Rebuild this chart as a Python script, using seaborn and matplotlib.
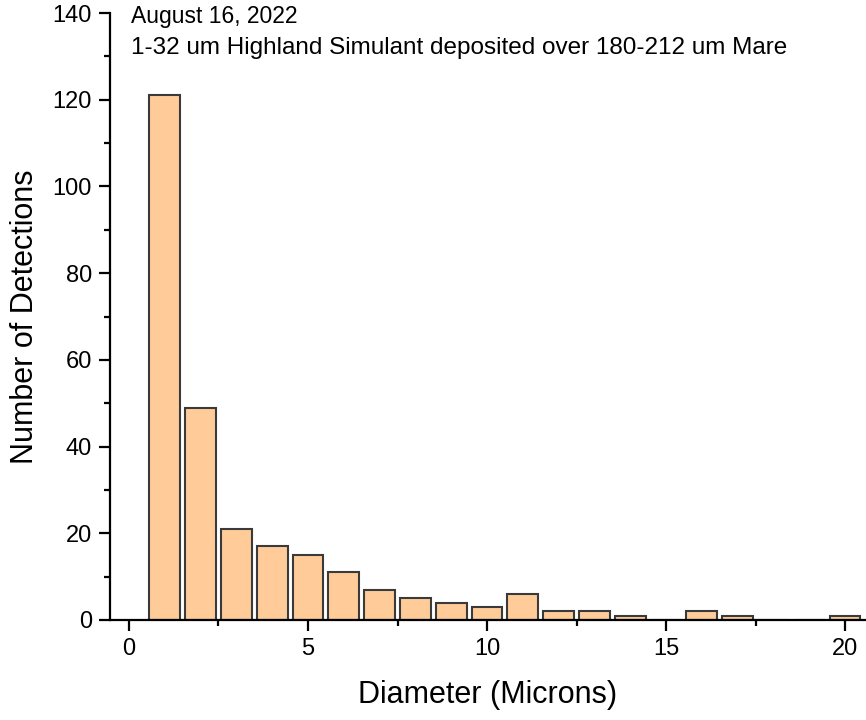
import numpy as np
import pandas as pd
import matplotlib
matplotlib.use("Agg")
import matplotlib.pyplot as plt
import seaborn as sns
from matplotlib.ticker import MultipleLocator

# Data
diameters = [1, 2, 3, 4, 5, 6, 7, 8, 9, 10, 11, 12, 13, 14, 15, 16, 17, 18, 19, 20]
counts = [121, 49, 21, 17, 15, 11, 7, 5, 4, 3, 6, 2, 2, 1, 0, 2, 1, 0, 0, 1]
title_lines = ["August 16, 2022", "1-32 um Highland Simulant deposited over 180-212 um Mare"]
x_label = "Diameter (Microns)"
y_label = "Number of Detections"

df = pd.DataFrame({"diameter": diameters, "count": counts})

sns.set_style("ticks")
plt.rcParams["font.family"] = ["Liberation Sans", "DejaVu Sans"]
plt.rcParams["text.color"] = "black"
plt.rcParams["axes.labelcolor"] = "black"

fig = plt.figure(figsize=(8.66, 7.2), dpi=100)
ax = fig.add_axes([110 / 866, 100 / 720, 1 - 110 / 866 - 0.001, (620 - 13) / 720])

sns.histplot(data=df, x="diameter", weights="count", discrete=True, shrink=0.86,
             color="#FFCC99", edgecolor="#3a3a3a", linewidth=1.5, alpha=1.0, ax=ax)

ax.set_xlim(-0.53, 20.56)
ax.set_ylim(0, 140)
ax.xaxis.set_major_locator(MultipleLocator(5))
ax.xaxis.set_minor_locator(MultipleLocator(2.5))
ax.yaxis.set_major_locator(MultipleLocator(20))
ax.yaxis.set_minor_locator(MultipleLocator(10))

for s in ["top", "right"]:
    ax.spines[s].set_visible(False)
for s in ["left", "bottom"]:
    ax.spines[s].set_linewidth(1.6)
    ax.spines[s].set_color("black")

ax.tick_params(axis="both", which="major", direction="out", length=8, width=1.6,
               labelsize=17, colors="black", pad=5)
ax.tick_params(axis="both", which="minor", direction="out", length=4, width=1.6, colors="black")

ax.set_xlabel(x_label, fontsize=22, labelpad=14, color="black")
ax.set_ylabel(y_label, fontsize=22, labelpad=9, color="black")

ax.text(0.05, 139.3, title_lines[0], fontsize=16.5, ha="left", va="center",
        color="black", clip_on=False)
ax.text(0.05, 131.9, title_lines[1], fontsize=17.5, ha="left", va="center",
        color="black", clip_on=False)

fig.savefig("out.png", dpi=100)
